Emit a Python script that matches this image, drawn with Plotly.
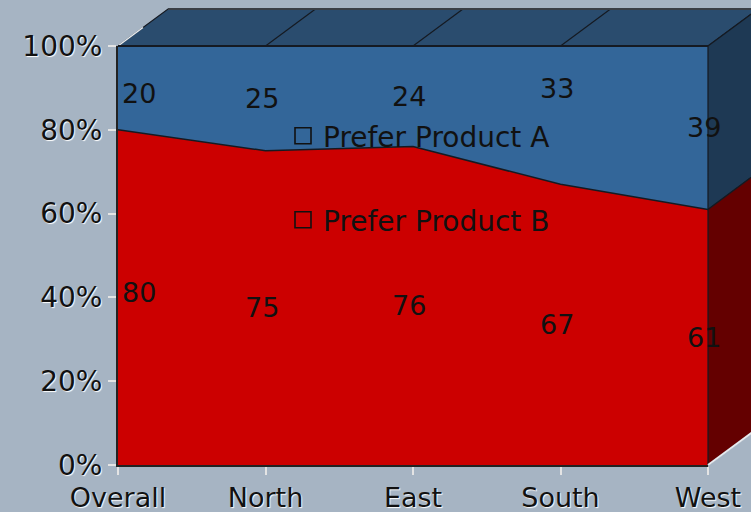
import plotly.graph_objects as go

# ---------------- data ----------------
categories = ["Overall", "North", "East", "South", "West"]
prefer_a = [20, 25, 24, 33, 39]
prefer_b = [80, 75, 76, 67, 61]
series_names = ["Prefer Product A", "Prefer Product B"]
y_ticks = [0, 20, 40, 60, 80, 100]
y_tick_labels = ["0%", "20%", "40%", "60%", "80%", "100%"]

# ---------------- geometry / style ----------------
W, H = 751, 512
PL, PR, PT, PB = 118, 708, 46, 465      # front plot rectangle (px)
DEPTH_X, DEPTH_Y = 50, 37                # 3D depth offset (px)

BG = "#A6B4C3"
RED = "#CC0000"
BLUE = "#336699"
TOP_FACE = "#2A4C6E"
SIDE_BLUE = "#1E3954"
SIDE_RED = "#640000"
EDGE = "#151a22"
TXT = "#111111"
FONT = "DejaVu Sans"

n = len(categories)
kx = (PR - PL) / (n - 1)
ky = (PB - PT) / 100.0
ddx = DEPTH_X / kx
ddy = DEPTH_Y / ky
x2_range = [-PL / kx, (n - 1) + (W - PR) / kx]
y2_range = [-(H - PB) / ky, 100 + PT / ky]

top = [a + b for a, b in zip(prefer_a, prefer_b)]
xl = n - 1

fig = go.Figure()

# front stacked areas
fig.add_trace(go.Scatter(
    x=categories, y=prefer_b, stackgroup="s", mode="lines",
    line=dict(color=EDGE, width=1.5), fillcolor=RED,
    name=series_names[1], showlegend=False, hoverinfo="skip"))
fig.add_trace(go.Scatter(
    x=categories, y=prefer_a, stackgroup="s", mode="lines",
    line=dict(color=EDGE, width=1.5), fillcolor=BLUE,
    name=series_names[0], showlegend=False, hoverinfo="skip"))

def face(xs, ys, fill, lc=EDGE, lw=1.2):
    fig.add_trace(go.Scatter(
        x=xs, y=ys, xaxis="x2", yaxis="y2", mode="lines", fill="toself",
        fillcolor=fill, line=dict(color=lc, width=lw),
        showlegend=False, hoverinfo="skip"))

def edge(xs, ys, lc=EDGE, lw=1.2):
    fig.add_trace(go.Scatter(
        x=xs, y=ys, xaxis="x2", yaxis="y2", mode="lines",
        line=dict(color=lc, width=lw), showlegend=False, hoverinfo="skip"))

# top face
face([0, xl, xl + ddx, ddx, 0],
     [top[0], top[-1], top[-1] + ddy, top[0] + ddy, top[0]], TOP_FACE)
for i in range(1, n - 1):
    edge([i, i + ddx], [top[i], top[i] + ddy])
edge([0, ddx * 0.5], [top[0], top[0] + ddy * 0.5], "#e8ecf0", 1.5)
edge([ddx, xl + ddx], [top[0] + ddy, top[-1] + ddy], "#3a3f46", 2)

# right side faces
face([xl, xl + ddx, xl + ddx, xl, xl],
     [top[-1], top[-1] + ddy, prefer_b[-1] + ddy, prefer_b[-1], top[-1]], SIDE_BLUE)
face([xl, xl + ddx, xl + ddx, xl, xl],
     [prefer_b[-1], prefer_b[-1] + ddy, ddy, 0, prefer_b[-1]], SIDE_RED)
edge([xl, xl + ddx], [0, ddy], "#e6eaee", 2)
edge([0, xl], [top[0], top[-1]], EDGE, 2)

# legend entries (hollow squares)
for name, lg in zip(series_names, ["legend", "legend2"]):
    fig.add_trace(go.Scatter(
        x=[None], y=[None], mode="markers", name=name, legend=lg,
        marker=dict(symbol="square-open", size=16, color=TXT,
                    line=dict(width=1.6, color=TXT))))

# data labels (pixel nudges mimic the original's collision avoidance)
nudge_a = [-6, 0, 0, 27, 0]
nudge_b = [5, 0, 0, 0, 0]
annotations = []
for i, c in enumerate(categories):
    anchor = "left" if i == 0 else "center"
    shift = 2 if i == 0 else -4
    annotations.append(dict(
        x=c, y=prefer_b[i] + prefer_a[i] / 2, xref="x", yref="y",
        text=str(prefer_a[i]), showarrow=False, xanchor=anchor, xshift=shift,
        yshift=nudge_a[i], font=dict(family=FONT, size=27, color=TXT)))
    annotations.append(dict(
        x=c, y=prefer_b[i] / 2, xref="x", yref="y",
        text=str(prefer_b[i]), showarrow=False, xanchor=anchor, xshift=shift,
        yshift=nudge_b[i], font=dict(family=FONT, size=27, color=TXT)))

xtickfont = dict(family=FONT, size=27, color=TXT, shadow="1px 1px 1px #ffffff")
ytickfont = dict(family=FONT, size=28, color=TXT, shadow="1px 1px 1px #ffffff")
legfont = dict(family=FONT, size=28, color=TXT)

fig.update_layout(
    width=W, height=H,
    margin=dict(l=0, r=0, t=0, b=0, pad=0, autoexpand=False),
    paper_bgcolor=BG, plot_bgcolor="rgba(0,0,0,0)",
    xaxis=dict(domain=[PL / W, PR / W], range=[0, n - 1], showgrid=False,
               zeroline=False, showline=True, linecolor="#222222", linewidth=2,
               ticks="outside", ticklen=8, tickwidth=2, tickcolor="#e4e4e4",
               tickfont=xtickfont, anchor="y", fixedrange=True, automargin=False),
    yaxis=dict(domain=[1 - PB / H, 1 - PT / H], range=[0, 100], showgrid=False,
               zeroline=False, showline=True, linecolor="#222222", linewidth=2,
               tickvals=y_ticks, ticktext=y_tick_labels,
               ticks="outside", ticklen=8, tickwidth=2, tickcolor="#e4e4e4",
               tickfont=ytickfont, anchor="x", fixedrange=True, automargin=False),
    xaxis2=dict(domain=[0, 1], range=x2_range, visible=False, anchor="y2",
                automargin=False, fixedrange=True),
    yaxis2=dict(domain=[0, 1], range=y2_range, visible=False, anchor="x2",
                automargin=False, fixedrange=True),
    legend=dict(x=283 / W, xanchor="left", y=1 - 136 / H, yanchor="middle",
                bgcolor="rgba(0,0,0,0)", font=legfont),
    legend2=dict(x=283 / W, xanchor="left", y=1 - 220 / H, yanchor="middle",
                 bgcolor="rgba(0,0,0,0)", font=legfont),
    annotations=annotations,
    showlegend=True,
)

fig.write_html("out.html")
